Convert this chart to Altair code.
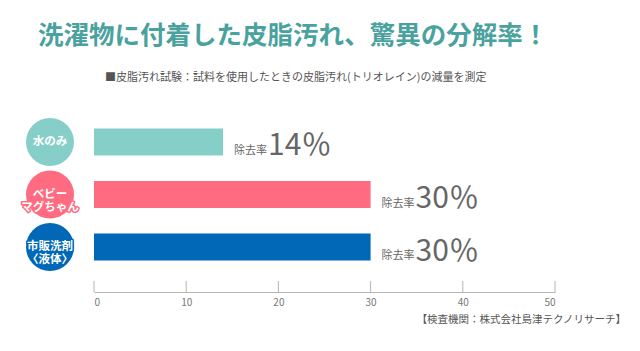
import altair as alt
import pandas as pd

categories = ["水のみ", "ベビー\nマグちゃん", "市販洗剤\n〈液体〉"]
values = [14, 30, 30]
colors = ["#86cfc9", "#ff6b80", "#0068b7"]
tick_values = [0, 10, 20, 30, 40, 50]
title_text = "洗濯物に付着した皮脂汚れ、驚異の分解率！"
subtitle_text = "■皮脂汚れ試験：試料を使用したときの皮脂汚れ(トリオレイン)の減量を測定"
source_text = "【検査機関：株式会社島津テクノリサーチ】"
rate_label = "除去率"

FONT = "Noto Sans CJK JP"
GRAY = "#666666"

df = pd.DataFrame({
    "cat": categories,
    "value": values,
    "pct": [f"{v}％" for v in values],
    "rate": [rate_label] * len(values),
})
tick_df = pd.DataFrame({"t": tick_values})

y = alt.Y("cat:N", sort=categories, axis=None,
          scale=alt.Scale(paddingInner=0.486, paddingOuter=0.6))
color = alt.Color("cat:N", scale=alt.Scale(domain=categories, range=colors), legend=None)
stroke = alt.Stroke("cat:N", scale=alt.Scale(domain=categories, range=colors), legend=None)
x = alt.X("value:Q", scale=alt.Scale(domain=[0, 50], nice=False),
          axis=alt.Axis(values=tick_values, ticks=False, grid=False,
                        domainColor="#b5b5b5", labelColor="#777777",
                        labelFontSize=10, labelPadding=5, title=None,
                        labelFont=FONT))

base = alt.Chart(df)

bars = base.mark_bar().encode(x=x, y=y, color=color)

ticks = alt.Chart(tick_df).mark_rule(color="#b5b5b5", strokeWidth=1).encode(
    x="t:Q", y=alt.value(184), y2=alt.value(195))

circles = base.mark_circle(size=2304, opacity=1).encode(
    x=alt.value(-44), y=y, color=color)

circle_text_outline = base.mark_text(
    font=FONT, fontSize=11.5, fontWeight="bold", lineBreak="\n", lineHeight=13,
    fill="white", strokeWidth=3, strokeJoin="round", baseline="middle", align="center"
).encode(x=alt.value(-44), y=y, text="cat:N", stroke=stroke)

circle_text = base.mark_text(
    font=FONT, fontSize=11.5, fontWeight="bold", lineBreak="\n", lineHeight=13,
    color="white", baseline="middle", align="center"
).encode(x=alt.value(-44), y=y, text="cat:N")

rate_text = base.mark_text(
    font=FONT, fontSize=11, color=GRAY, align="left", baseline="alphabetic",
    dx=11, dy=12
).encode(x="value:Q", y=y, text="rate:N")

pct_text = base.mark_text(
    font=FONT, fontSize=30, color=GRAY, align="left", baseline="alphabetic",
    dx=45, dy=13.5
).encode(x="value:Q", y=y, text="pct:N")

title = alt.Chart(pd.DataFrame({"t": [title_text]})).mark_text(
    font=FONT, fontSize=25.5, fontWeight="bold", color="#4aa29e",
    align="left", baseline="middle"
).encode(x=alt.value(-56), y=alt.value(-61), text="t:N")

subtitle = alt.Chart(pd.DataFrame({"t": [subtitle_text]})).mark_text(
    font=FONT, fontSize=11, color="#555555", align="left", baseline="middle"
).encode(x=alt.value(11), y=alt.value(-19), text="t:N")

source = alt.Chart(pd.DataFrame({"t": [source_text]})).mark_text(
    font=FONT, fontSize=10.5, color="#555555", align="right", baseline="middle"
).encode(x=alt.value(532), y=alt.value(223), text="t:N")

chart = alt.layer(
    bars, ticks, circles, circle_text_outline, circle_text,
    rate_text, pct_text, title, subtitle, source
).properties(
    width=461, height=195,
    padding={"left": 94, "top": 97, "right": 85, "bottom": 59},
    autosize=alt.AutoSizeParams(type="none"),
    background="white",
).configure_view(stroke=None)

chart.save("out.html", embed_options={"renderer": "svg", "actions": False})
